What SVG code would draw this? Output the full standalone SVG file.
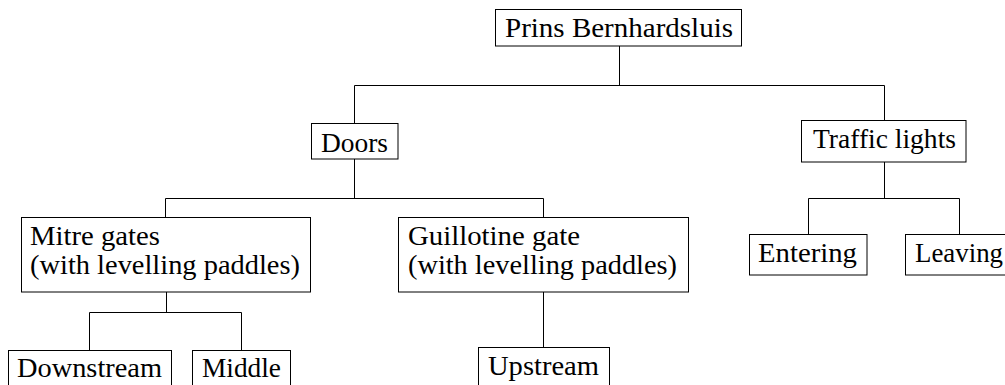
<svg xmlns="http://www.w3.org/2000/svg" width="1005" height="385" viewBox="0 0 1005 385">
  <style>
    .box { fill: #ffffff; stroke: #000000; stroke-width: 1; }
    .edge { fill: none; stroke: #000000; stroke-width: 1; }
    .lbl { font-family: "Liberation Serif", "DejaVu Serif", serif; font-size: 27px; fill: #000000; }
  </style>
  <rect width="1005" height="385" fill="#ffffff"/>

  <!-- tree connectors -->
  <g id="connectors">
    <path class="edge" d="M619.5 46 V85.5 M354.5 85.5 H884.5 M354.5 85.5 V123 M884.5 85.5 V120"/>
    <path class="edge" d="M354.5 159 V198.5 M165.5 198.5 H543.5 M165.5 198.5 V217 M543.5 198.5 V217"/>
    <path class="edge" d="M884.5 162 V198.5 M808.5 198.5 H959.5 M808.5 198.5 V234 M959.5 198.5 V234"/>
    <path class="edge" d="M166.5 292 V312.5 M89.5 312.5 H241.5 M89.5 312.5 V350 M241.5 312.5 V350"/>
    <path class="edge" d="M543.5 292 V347"/>
  </g>

  <g id="root">
    <rect class="box" x="495.5" y="9.5" width="246" height="36.5"/>
    <text class="lbl" font-family="Liberation Serif, DejaVu Serif, serif" x="505" y="37" textLength="228" lengthAdjust="spacingAndGlyphs">Prins Bernhardsluis</text>
  </g>

  <g id="doors">
    <rect class="box" x="311.5" y="123.5" width="86.5" height="35.5"/>
    <text class="lbl" x="321" y="152" textLength="67" lengthAdjust="spacingAndGlyphs">Doors</text>
  </g>

  <g id="traffic-lights">
    <rect class="box" x="801.5" y="120.5" width="164.5" height="41.5"/>
    <text class="lbl" x="813" y="148" textLength="143" lengthAdjust="spacingAndGlyphs">Traffic lights</text>
  </g>

  <g id="entering">
    <rect class="box" x="749.5" y="234.5" width="117.5" height="40.5"/>
    <text class="lbl" x="758" y="262" textLength="99" lengthAdjust="spacingAndGlyphs">Entering</text>
  </g>

  <g id="leaving">
    <rect class="box" x="905.5" y="234.5" width="120" height="40.5"/>
    <text class="lbl" x="915" y="262" textLength="88" lengthAdjust="spacingAndGlyphs">Leaving</text>
  </g>

  <g id="mitre-gates">
    <rect class="box" x="21.5" y="217.5" width="289" height="74.5"/>
    <text class="lbl" x="30" y="245" textLength="130" lengthAdjust="spacingAndGlyphs">Mitre gates</text>
    <text class="lbl" x="30" y="274" textLength="270" lengthAdjust="spacingAndGlyphs">(with levelling paddles)</text>
  </g>

  <g id="guillotine-gate">
    <rect class="box" x="398.5" y="217.5" width="290" height="74.5"/>
    <text class="lbl" x="408" y="245" textLength="172" lengthAdjust="spacingAndGlyphs">Guillotine gate</text>
    <text class="lbl" x="408" y="274" textLength="269" lengthAdjust="spacingAndGlyphs">(with levelling paddles)</text>
  </g>

  <g id="downstream">
    <rect class="box" x="8.5" y="350.5" width="163" height="50"/>
    <text class="lbl" x="17" y="377" textLength="145" lengthAdjust="spacingAndGlyphs">Downstream</text>
  </g>

  <g id="middle">
    <rect class="box" x="192.5" y="350.5" width="98" height="50"/>
    <text class="lbl" x="202" y="377" textLength="79" lengthAdjust="spacingAndGlyphs">Middle</text>
  </g>

  <g id="upstream">
    <rect class="box" x="478.5" y="347.5" width="131" height="50"/>
    <text class="lbl" x="488" y="375" textLength="111" lengthAdjust="spacingAndGlyphs">Upstream</text>
  </g>
</svg>
